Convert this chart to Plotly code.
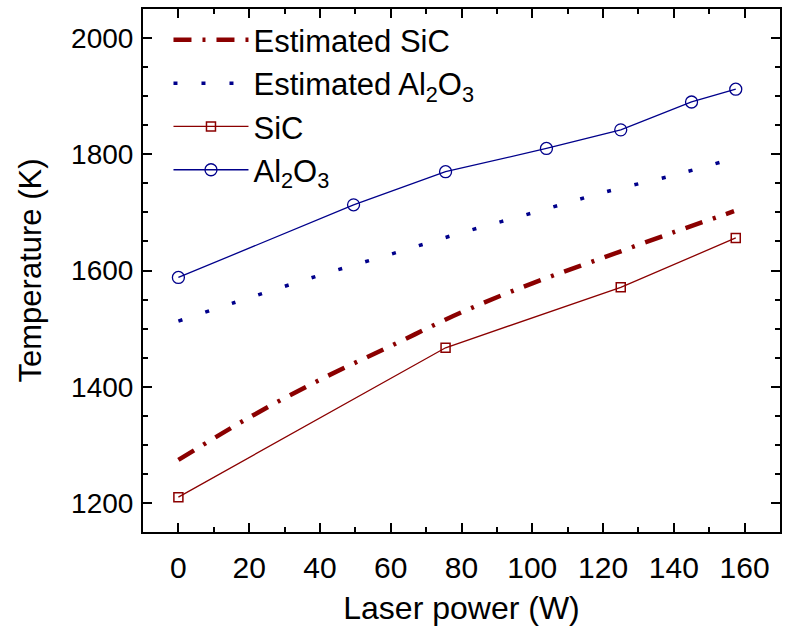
import plotly.graph_objects as go

# Measured data
sic_x = [0, 75.5, 125, 157.5]
sic_y = [1210, 1467, 1571, 1656]

al_x = [0, 49.5, 75.5, 104, 125, 145, 157.5]
al_y = [1588, 1713, 1770, 1810, 1842, 1890, 1912]

est_sic_x = [0, 20, 40, 60, 80, 100, 120, 140, 157]
est_sic_y = [1274, 1347, 1412, 1470, 1528, 1578, 1622, 1666, 1702]

est_al_x = [0, 20, 40, 60, 80, 100, 120, 140, 153]
est_al_y = [1513, 1553, 1592, 1628, 1665, 1699, 1734, 1764, 1786]

x_ticks = [0, 20, 40, 60, 80, 100, 120, 140, 160]
y_ticks = [1200, 1400, 1600, 1800, 2000]

RED = "#8B0000"
BLUE = "#00008B"
FONT = "Liberation Sans, Arial, sans-serif"

fig = go.Figure()
fig.add_trace(go.Scatter(
    x=est_sic_x, y=est_sic_y, mode="lines", name="Estimated SiC",
    line=dict(color=RED, width=4.5, dash="18px,11px,3px,11px", shape="spline"),
))
fig.add_trace(go.Scatter(
    x=est_al_x, y=est_al_y, mode="lines", name="Estimated Al<sub>2</sub>O<sub>3</sub>",
    line=dict(color=BLUE, width=3.5, dash="4px,24px", shape="spline"),
))
fig.add_trace(go.Scatter(
    x=sic_x, y=sic_y, mode="lines+markers", name="SiC",
    line=dict(color=RED, width=1.3),
    marker=dict(symbol="square-open", size=9, color=RED, line=dict(width=1.5, color=RED)),
))
fig.add_trace(go.Scatter(
    x=al_x, y=al_y, mode="lines+markers", name="Al<sub>2</sub>O<sub>3</sub>",
    line=dict(color=BLUE, width=1.3),
    marker=dict(symbol="circle-open", size=12, color=BLUE, line=dict(width=1.3, color=BLUE)),
))

axis_common = dict(
    showline=True, linecolor="black", linewidth=2, mirror="ticks",
    ticks="inside", ticklen=9, tickwidth=2, tickcolor="black",
    showgrid=False, zeroline=False,
)

fig.update_xaxes(
    range=[-10, 170], tickmode="array", tickvals=x_ticks,
    ticktext=[str(v) for v in x_ticks],
    tickfont=dict(family=FONT, size=30, color="black"),
    ticklabelstandoff=8,
    minor=dict(ticks="inside", ticklen=5, tickwidth=2, tickcolor="black", dtick=10, tick0=0),
    title=dict(text="Laser power (W)", font=dict(family=FONT, size=32, color="black"), standoff=14),
    **axis_common,
)
fig.update_yaxes(
    range=[1150, 2050], tickmode="array", tickvals=y_ticks,
    ticktext=[str(v) for v in y_ticks],
    tickfont=dict(family=FONT, size=28, color="black"),
    ticklabelstandoff=2,
    minor=dict(ticks="inside", ticklen=5, tickwidth=2, tickcolor="black", dtick=50, tick0=0),
    title=dict(text="Temperature (K)", font=dict(family=FONT, size=31, color="black"), standoff=20),
    **axis_common,
)

fig.update_layout(
    width=785, height=633,
    margin=dict(l=143, r=3, t=9, b=101),
    paper_bgcolor="white", plot_bgcolor="white",
    font=dict(family=FONT, color="black"),
    legend=dict(
        x=0.04, y=0.992, xanchor="left", yanchor="top",
        bgcolor="rgba(0,0,0,0)", borderwidth=0,
        font=dict(family=FONT, size=31, color="black"),
        itemwidth=75, tracegroupgap=0,
    ),
)

fig.write_html("out.html")
